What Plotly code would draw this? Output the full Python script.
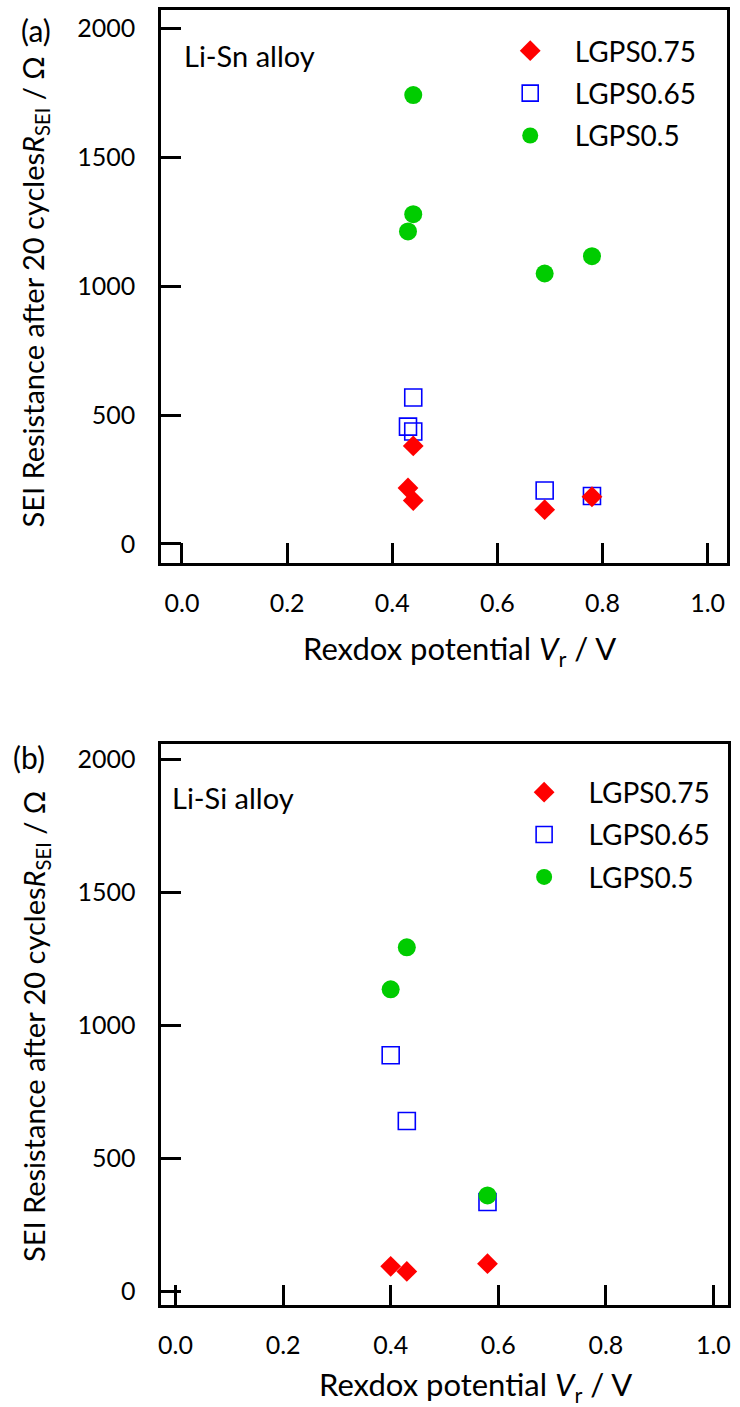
import plotly.graph_objects as go

W, H = 740, 1407
FONT = "Lato"

# ---------------- data ----------------
series_names = ["LGPS0.75", "LGPS0.65", "LGPS0.5"]

# (a) Li-Sn alloy
sn_x_075 = [0.44, 0.43, 0.44, 0.69, 0.78]
sn_y_075 = [380, 217, 168, 133, 183]
sn_x_065 = [0.44, 0.43, 0.44, 0.69, 0.78]
sn_y_065 = [568, 455, 436, 207, 186]
sn_x_05 = [0.44, 0.44, 0.43, 0.69, 0.78]
sn_y_05 = [1741, 1279, 1212, 1049, 1116]

# (b) Li-Si alloy
si_x_075 = [0.40, 0.43, 0.58]
si_y_075 = [93, 74, 103]
si_x_065 = [0.40, 0.43, 0.58]
si_y_065 = [887, 640, 335]
si_x_05 = [0.40, 0.43, 0.58]
si_y_05 = [1135, 1293, 360]

x_ticks = [0.0, 0.2, 0.4, 0.6, 0.8, 1.0]
x_ticktext = ["0.0", "0.2", "0.4", "0.6", "0.8", "1.0"]
y_ticks = [0, 500, 1000, 1500, 2000]

# ---------------- styles ----------------
styles = {
    "LGPS0.75": dict(symbol="diamond", color="#ff0000", size=16, line=dict(width=0)),
    "LGPS0.65": dict(symbol="square-open", color="#0000ff", size=17, line=dict(width=1.6, color="#0000ff")),
    "LGPS0.5": dict(symbol="circle", color="#00cc00", size=18, line=dict(width=0)),
}
ranks = {"LGPS0.75": 1, "LGPS0.65": 2, "LGPS0.5": 3}
draw_order = ["LGPS0.65", "LGPS0.75", "LGPS0.5"]


def py(p):
    return 1 - p / H


def px(p):
    return p / W


fig = go.Figure()

panels = [
    ("a", ("x", "y"), {"LGPS0.75": (sn_x_075, sn_y_075), "LGPS0.65": (sn_x_065, sn_y_065),
                       "LGPS0.5": (sn_x_05, sn_y_05)}, "legend"),
    ("b", ("x2", "y2"), {"LGPS0.75": (si_x_075, si_y_075), "LGPS0.65": (si_x_065, si_y_065),
                         "LGPS0.5": (si_x_05, si_y_05)}, "legend2"),
]

for tag, (xa, ya), data, leg in panels:
    for name in draw_order:
        xs, ys = data[name]
        fig.add_trace(go.Scatter(
            x=xs, y=ys, mode="markers", name=name, xaxis=xa, yaxis=ya,
            marker=styles[name], legend=leg, showlegend=True,
            legendrank=ranks[name], legendgroup=tag + name,
        ))

axis_common = dict(
    showline=True, linecolor="black", linewidth=2.5, mirror=True,
    ticks="inside", ticklen=20, tickwidth=2.5, tickcolor="black",
    showgrid=False, zeroline=False,
    tickfont=dict(family=FONT, size=25, color="black"),
)

leg_common = dict(xanchor="left", yanchor="top", font=dict(family=FONT, size=28),
                  itemwidth=79, bgcolor="rgba(0,0,0,0)", tracegroupgap=3)

fig.update_layout(
    width=W, height=H, autosize=False,
    margin=dict(l=0, r=0, t=0, b=0),
    paper_bgcolor="white", plot_bgcolor="white",
    font=dict(family=FONT, size=25, color="black"),
    xaxis=dict(domain=[px(159), px(729)], range=[-0.040, 1.037], anchor="y",
               tickvals=x_ticks, ticktext=x_ticktext, ticklabelstandoff=16,
               **axis_common),
    yaxis=dict(domain=[py(562.3), py(9.3)], range=[-73.6, 2070], anchor="x",
               tickvals=y_ticks, ticklabelstandoff=18, **axis_common),
    xaxis2=dict(domain=[px(159.3), px(730.4)], range=[-0.0266, 1.028], anchor="y2",
                tickvals=x_ticks, ticktext=x_ticktext, ticklabelstandoff=16,
                **axis_common),
    yaxis2=dict(domain=[py(1305), py(743.5)], range=[-52.6, 2058], anchor="x2",
                tickvals=y_ticks, ticklabelstandoff=18, **axis_common),
    legend=dict(x=px(486), y=py(25), **leg_common),
    legend2=dict(x=px(500), y=py(767), **leg_common),
)

xtitle = "Rexdox potential <i>V</i><sub>r</sub> / V"
ytitle = "SEI Resistance after 20 cycles<i>R</i><sub>SEI</sub> / Ω"
annos = [
    dict(text="(a)", x=px(33), y=py(29), xanchor="center", yanchor="middle", font=dict(family=FONT, size=30)),
    dict(text="(b)", x=px(26), y=py(757), xanchor="center", yanchor="middle", font=dict(family=FONT, size=30)),
    dict(text=ytitle, x=px(32), y=py(291), xanchor="center", yanchor="middle", textangle=-90),
    dict(text=ytitle, x=px(32), y=py(1026), xanchor="center", yanchor="middle", textangle=-90),
    dict(text=xtitle, x=px(460), y=py(650), xanchor="center", yanchor="middle", font=dict(family=FONT, size=31)),
    dict(text=xtitle, x=px(476), y=py(1386), xanchor="center", yanchor="middle", font=dict(family=FONT, size=31)),
    dict(text="Li-Sn alloy", x=px(180), y=py(55), xanchor="left", yanchor="middle"),
    dict(text="Li-Si alloy", x=px(168), y=py(797), xanchor="left", yanchor="middle"),
]
for a in annos:
    a.setdefault("font", dict(family=FONT, size=29, color="black"))
    fig.add_annotation(xref="paper", yref="paper", showarrow=False, **a)

fig.write_html("out.html")
